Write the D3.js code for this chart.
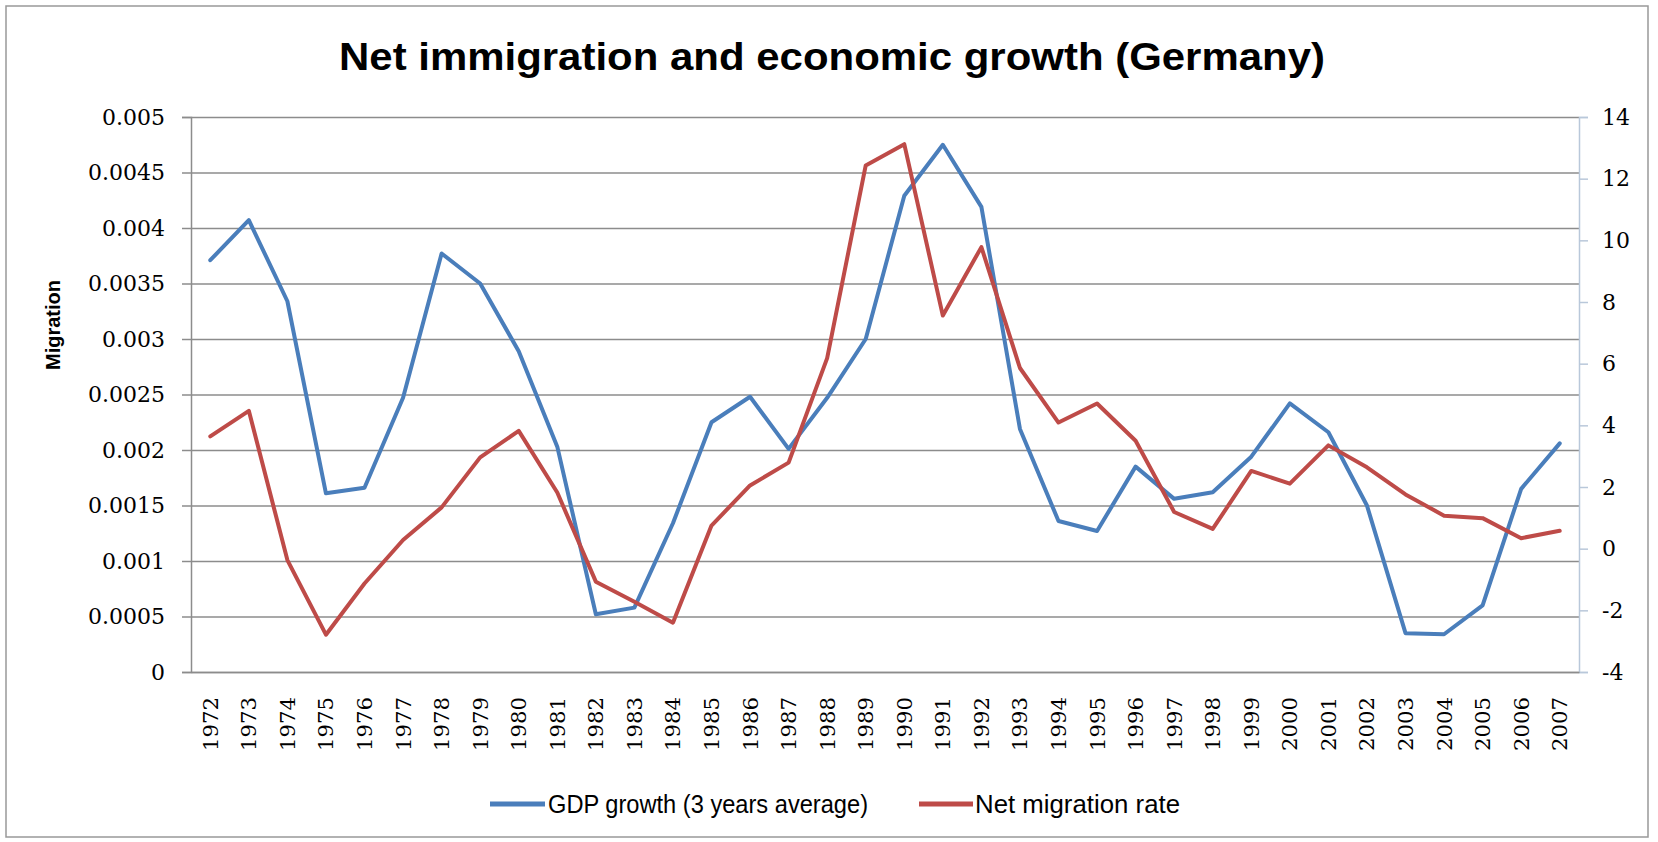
<!DOCTYPE html>
<html>
<head>
<meta charset="utf-8">
<script src="https://cdn.jsdelivr.net/npm/d3@7"></script>
<style>
  html, body { margin: 0; padding: 0; background: #ffffff; }
  svg { display: block; }
</style>
</head>
<body>
<svg id="chart" width="1658" height="842"></svg>
<script>
// ---------------- data ----------------
const years = ["1972","1973","1974","1975","1976","1977","1978","1979","1980","1981",
  "1982","1983","1984","1985","1986","1987","1988","1989","1990","1991","1992","1993",
  "1994","1995","1996","1997","1998","1999","2000","2001","2002","2003","2004","2005",
  "2006","2007"];

// GDP growth (3 years average) — plotted against the left axis
const gdpGrowth = [0.00371, 0.00407, 0.00334, 0.00161, 0.00166, 0.00247, 0.00377, 0.00350,
  0.00289, 0.00203, 0.00052, 0.00058, 0.00134, 0.00225, 0.00248, 0.00201, 0.00247, 0.00300,
  0.00429, 0.00475, 0.00419, 0.00219, 0.00136, 0.00127, 0.00185, 0.00156, 0.00162, 0.00194,
  0.00242, 0.00216, 0.00150, 0.00035, 0.00034, 0.00060, 0.00165, 0.00206];

// Net migration rate — plotted against the right axis
const netMigration = [3.64, 4.47, -0.37, -2.79, -1.13, 0.28, 1.34, 2.96, 3.82, 1.82,
  -1.07, -1.72, -2.40, 0.75, 2.05, 2.79, 6.18, 12.43, 13.12, 7.56, 9.78, 5.86, 4.09,
  4.71, 3.50, 1.19, 0.64, 2.52, 2.11, 3.35, 2.64, 1.76, 1.07, 0.99, 0.34, 0.58];

const leftTicks = [0, 0.0005, 0.001, 0.0015, 0.002, 0.0025, 0.003, 0.0035, 0.004, 0.0045, 0.005];
const leftTickLabels = ["0","0.0005","0.001","0.0015","0.002","0.0025","0.003","0.0035","0.004","0.0045","0.005"];
const rightTicks = [-4, -2, 0, 2, 4, 6, 8, 10, 12, 14];
const rightTickLabels = ["-4","-2","0","2","4","6","8","10","12","14"];

const seriesNames = ["GDP growth (3 years average)", "Net migration rate"];
const seriesColors = ["#4A7EBB", "#BE4B48"];
const titleText = "Net immigration and economic growth (Germany)";
const yTitleText = "Migration";

// ---------------- layout ----------------
const W = 1658, H = 842;
const plot = { left: 191, right: 1579, top: 117, bottom: 672 };

const svg = d3.select("#chart");

// outer chart border
svg.append("rect")
  .attr("x", 6).attr("y", 6).attr("width", 1642).attr("height", 831)
  .attr("fill", "#ffffff").attr("stroke", "#999999").attr("stroke-width", 1.5);

const x = d3.scalePoint().domain(years).range([plot.left, plot.right]).padding(0.5);
const yL = d3.scaleLinear().domain([0, 0.005]).range([plot.bottom, plot.top]);
const yR = d3.scaleLinear().domain([-4, 14]).range([plot.bottom, plot.top]);

// gridlines (left axis major ticks)
const grid = svg.append("g")
  .attr("transform", `translate(${plot.left},0)`)
  .call(d3.axisLeft(yL).tickValues(leftTicks).tickSize(-(plot.right - plot.left)).tickFormat(""));
grid.select(".domain").remove();
grid.selectAll(".tick line").attr("stroke", "#8C8C8C").attr("stroke-width", 1.5);

// left axis
const axL = svg.append("g")
  .attr("transform", `translate(${plot.left},0)`)
  .call(d3.axisLeft(yL).tickValues(leftTicks)
    .tickFormat((d, i) => leftTickLabels[i]).tickSize(9).tickPadding(17));
axL.select(".domain").attr("stroke", "#8C8C8C").attr("stroke-width", 1.5);
axL.selectAll(".tick line").attr("stroke", "#8C8C8C").attr("stroke-width", 1.5);
axL.selectAll(".tick text")
  .attr("font-family", "'DejaVu Serif', serif").attr("font-size", 22).attr("fill", "#000");

// right axis
const axR = svg.append("g")
  .attr("transform", `translate(${plot.right},0)`)
  .call(d3.axisRight(yR).tickValues(rightTicks)
    .tickFormat((d, i) => rightTickLabels[i]).tickSize(9).tickPadding(14));
axR.select(".domain").attr("stroke", "#B9C8DA").attr("stroke-width", 1.5);
axR.selectAll(".tick line").attr("stroke", "#B9C8DA").attr("stroke-width", 1.5);
axR.selectAll(".tick text")
  .attr("font-family", "'DejaVu Serif', serif").attr("font-size", 22).attr("fill", "#000");

// bottom axis (category labels, rotated)
const axB = svg.append("g")
  .attr("transform", `translate(0,${plot.bottom})`)
  .call(d3.axisBottom(x).tickSize(0).tickPadding(0));
axB.select(".domain").attr("stroke", "#8C8C8C").attr("stroke-width", 1.5);
axB.selectAll(".tick text")
  .attr("font-family", "'DejaVu Serif', serif").attr("font-size", 20).attr("fill", "#000")
  .attr("text-anchor", "end")
  .attr("x", 0).attr("y", 25).attr("dy", "0.35em")
  .attr("textLength", 54).attr("lengthAdjust", "spacingAndGlyphs")
  .attr("transform", "rotate(-90,0,25)");

// series lines
const line = (acc, scale) => d3.line()
  .x((d, i) => x(years[i]))
  .y(d => scale(d));

svg.append("path")
  .datum(gdpGrowth)
  .attr("d", line(null, yL))
  .attr("fill", "none").attr("stroke", seriesColors[0]).attr("stroke-width", 4)
  .attr("stroke-linejoin", "round").attr("stroke-linecap", "round");

svg.append("path")
  .datum(netMigration)
  .attr("d", line(null, yR))
  .attr("fill", "none").attr("stroke", seriesColors[1]).attr("stroke-width", 4)
  .attr("stroke-linejoin", "round").attr("stroke-linecap", "round");

// title
svg.append("text")
  .attr("x", 832).attr("y", 70)
  .attr("text-anchor", "middle")
  .attr("font-family", "'Liberation Sans', Arial, sans-serif")
  .attr("font-weight", "bold").attr("font-size", 38).attr("fill", "#000")
  .attr("textLength", 986).attr("lengthAdjust", "spacingAndGlyphs")
  .text(titleText);

// y-axis title
svg.append("text")
  .attr("transform", "translate(60,325) rotate(-90)")
  .attr("text-anchor", "middle")
  .attr("font-family", "'Liberation Sans', Arial, sans-serif")
  .attr("font-weight", "bold").attr("font-size", 20).attr("fill", "#000")
  .text(yTitleText);

// legend
const legendItems = [
  { name: seriesNames[0], color: seriesColors[0], x0: 490, x1: 545, tx: 548, tw: 320 },
  { name: seriesNames[1], color: seriesColors[1], x0: 919, x1: 973, tx: 975, tw: 205 }
];
const lg = svg.append("g");
legendItems.forEach(it => {
  lg.append("line")
    .attr("x1", it.x0).attr("x2", it.x1).attr("y1", 804).attr("y2", 804)
    .attr("stroke", it.color).attr("stroke-width", 5);
  lg.append("text")
    .attr("x", it.tx).attr("y", 813)
    .attr("font-family", "'Liberation Sans', Arial, sans-serif")
    .attr("font-size", 25).attr("fill", "#000")
    .attr("textLength", it.tw).attr("lengthAdjust", "spacingAndGlyphs")
    .text(it.name);
});
</script>
</body>
</html>
